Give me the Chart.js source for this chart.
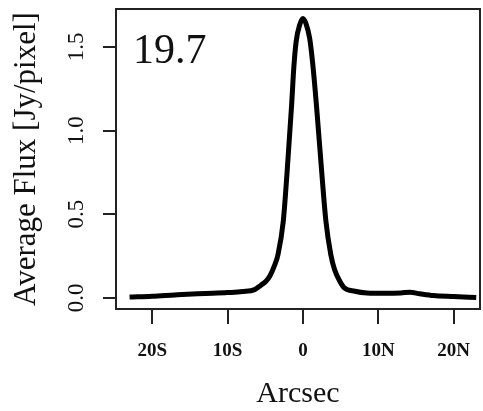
<!DOCTYPE html>
<html>
<head>
<meta charset="utf-8">
<script src="https://cdn.jsdelivr.net/npm/chart.js@4.4.1/dist/chart.umd.min.js"></script>
<style>
  body { margin: 0; background: #fff; }
  canvas { display: block; }
</style>
</head>
<body>
<canvas id="profileChart" width="483" height="411"></canvas>
<script>
// Flux profile across the source (arcsec, S negative / N positive)
const offsets = [-23, -20, -17, -14, -12, -10, -8, -6.4, -5.6, -4.9, -4.4, -3.8, -3.3, -2.6, -2.1, -1.5, -1.2, -0.9, -0.4, 0,
  0.4, 0.9, 1.3, 1.8, 2.5, 3.05, 3.7, 4.2, 4.9, 5.5, 6.9, 8.5, 11, 13, 14.2, 15.5, 17.3, 20, 23];
const flux = [0.005, 0.01, 0.018, 0.025, 0.028, 0.032, 0.038, 0.05, 0.075, 0.1, 0.13, 0.19, 0.26, 0.46, 0.75, 1.15, 1.38, 1.53, 1.635, 1.67,
  1.64, 1.55, 1.4, 1.15, 0.75, 0.46, 0.26, 0.17, 0.1, 0.06, 0.04, 0.03, 0.028, 0.03, 0.034, 0.025, 0.014, 0.008, 0.002];

const xTickValues = [-20, -10, 0, 10, 20];
const xTickLabels = ["20S", "10S", "0", "10N", "20N"];
const yTickValues = [0, 0.5, 1.0, 1.5];
const yTickLabels = ["0.0", "0.5", "1.0", "1.5"];

const panelLabel = "19.7";
const serif = "'Liberation Serif', 'DejaVu Serif', serif";

// box around the plot + the panel number in the corner
const framePlugin = {
  id: "frame",
  afterDraw(chart) {
    const { ctx, chartArea } = chart;
    ctx.save();
    ctx.strokeStyle = "#222";
    ctx.lineWidth = 2;
    ctx.strokeRect(chartArea.left, chartArea.top, chartArea.right - chartArea.left, chartArea.bottom - chartArea.top);
    ctx.fillStyle = "#111";
    ctx.font = "42px " + serif;
    ctx.textBaseline = "alphabetic";
    ctx.fillText(panelLabel, chartArea.left + 17, chartArea.top + 54);
    ctx.restore();
  },
};

new Chart(document.getElementById("profileChart"), {
  type: "line",
  data: {
    datasets: [
      {
        data: offsets.map((x, i) => ({ x: x, y: flux[i] })),
        borderColor: "#000",
        borderWidth: 5,
        pointRadius: 0,
        cubicInterpolationMode: "monotone",
        fill: false,
      },
    ],
  },
  options: {
    responsive: false,
    animation: false,
    layout: { padding: { top: 9, right: 3, left: 0, bottom: 0 } },
    plugins: {
      legend: { display: false },
      tooltip: { enabled: false },
    },
    scales: {
      x: {
        type: "linear",
        min: -24.8,
        max: 23.5,
        afterFit: (scale) => {
          scale.height = 102;
          scale.paddingLeft = 0;
          scale.paddingRight = 0;
        },
        afterBuildTicks: (scale) => {
          scale.ticks = xTickValues.map((v) => ({ value: v }));
        },
        grid: { drawOnChartArea: false, drawTicks: true, tickLength: 15, color: "#222", lineWidth: 2 },
        border: { display: true, color: "#222", width: 2 },
        ticks: {
          color: "#111",
          padding: 16,
          maxRotation: 0,
          font: { family: serif, size: 19, weight: "bold" },
          callback: (v) => xTickLabels[xTickValues.indexOf(v)],
        },
        title: {
          display: true,
          text: "Arcsec",
          color: "#111",
          font: { family: serif, size: 30, lineHeight: 1 },
          padding: { top: 0, bottom: 2 },
        },
      },
      y: {
        min: -0.066,
        max: 1.726,
        afterFit: (scale) => {
          scale.width = 116;
          scale.paddingTop = 0;
          scale.paddingBottom = 0;
        },
        afterBuildTicks: (scale) => {
          scale.ticks = yTickValues.map((v) => ({ value: v }));
        },
        grid: { drawOnChartArea: false, drawTicks: true, tickLength: 13, color: "#222", lineWidth: 2 },
        border: { display: true, color: "#222", width: 2 },
        ticks: {
          color: "#111",
          padding: 12,
          minRotation: 90,
          maxRotation: 90,
          crossAlign: "center",
          font: { family: serif, size: 23 },
          callback: (v) => yTickLabels[yTickValues.indexOf(v)],
        },
        title: {
          display: true,
          text: "Average Flux [Jy/pixel]",
          color: "#111",
          font: { family: serif, size: 31, lineHeight: 1.2 },
          padding: { top: 8, bottom: 0 },
        },
      },
    },
  },
  plugins: [framePlugin],
});
</script>
</body>
</html>
